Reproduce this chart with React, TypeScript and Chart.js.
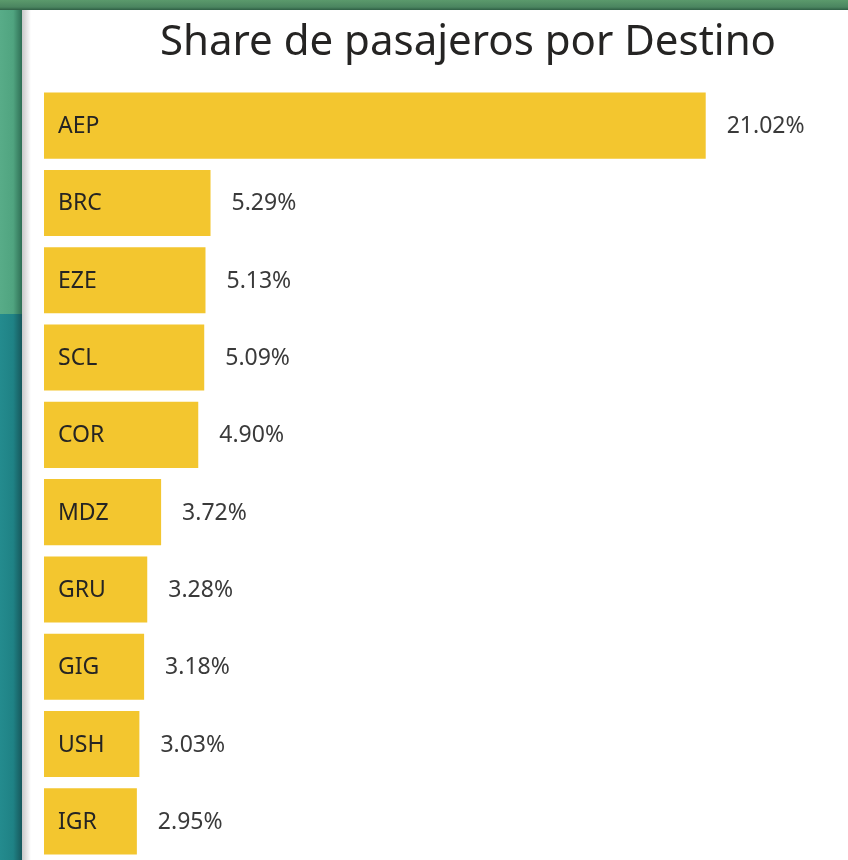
import React, { useEffect, useRef } from "react";
import { Chart, registerables } from "chart.js";

Chart.register(...registerables);

const TITLE = "Share de pasajeros por Destino";
const destinos = ["AEP", "BRC", "EZE", "SCL", "COR", "MDZ", "GRU", "GIG", "USH", "IGR"];
const share = [21.02, 5.29, 5.13, 5.09, 4.9, 3.72, 3.28, 3.18, 3.03, 2.95];

const FONT = "'Noto Sans', 'Open Sans', sans-serif";

const labelsPlugin = {
  id: "valueLabels",
  afterDatasetsDraw(chart: any) {
    const ctx = chart.ctx;
    const meta = chart.getDatasetMeta(0);
    const area = chart.chartArea;
    ctx.save();
    ctx.textAlign = "left";
    ctx.textBaseline = "middle";
    meta.data.forEach((bar: any, i: number) => {
      ctx.font = `23px ${FONT}`;
      ctx.fillStyle = "#3a3a3a";
      ctx.fillText(share[i].toFixed(2) + "%", bar.x + 21, bar.y + 1);
      ctx.fillStyle = "#252423";
      ctx.fillText(destinos[i], area.left + 14, bar.y + 1);
    });
    ctx.restore();
  },
};

const titlePlugin = {
  id: "customTitle",
  afterDraw(chart: any) {
    const ctx = chart.ctx;
    ctx.save();
    ctx.font = `42px ${FONT}`;
    ctx.fillStyle = "#252423";
    ctx.textAlign = "center";
    ctx.textBaseline = "alphabetic";
    ctx.fillText(TITLE, 446, 45);
    ctx.restore();
  },
};

export default function App() {
  const ref = useRef<HTMLCanvasElement>(null);
  useEffect(() => {
    if (!ref.current) return;
    const chart = new Chart(ref.current, {
      type: "bar",
      data: {
        labels: destinos,
        datasets: [
          {
            data: share,
            backgroundColor: "#F3C62F",
            borderWidth: 0,
            categoryPercentage: 1,
            barPercentage: 0.855,
          },
        ],
      },
      options: {
        indexAxis: "y",
        animation: false,
        responsive: false,
        layout: { padding: { left: 22, right: 17, top: 77, bottom: 0 } },
        plugins: { legend: { display: false }, tooltip: { enabled: false }, title: { display: false } },
        scales: {
          x: { display: false, min: 0, max: 25 },
          y: { display: false },
        },
      },
      plugins: [labelsPlugin, titlePlugin],
    });
    return () => chart.destroy();
  }, []);

  return (
    <div style={{ position: "fixed", left: 0, top: 0, width: 848, height: 860, overflow: "hidden", background: "#ffffff" }}>
      <div style={{ position: "absolute", left: 0, top: 0, width: 22, height: 314, background: "linear-gradient(to right, #58ac88 0%, #50a480 60%, #2f6f55 100%)" }} />
      <div style={{ position: "absolute", left: 0, top: 314, width: 22, height: 546, background: "linear-gradient(to right, #248b8e 0%, #1f8285 60%, #17585c 100%)" }} />
      <div style={{ position: "absolute", left: 0, top: 0, width: 848, height: 10, background: "linear-gradient(to bottom, #5b9a6c 0%, #4b8560 70%, #2f5f45 100%)" }} />
      <div style={{ position: "absolute", left: 22, top: 10, width: 826, height: 850, background: "#ffffff" }}>
        <div style={{ position: "absolute", left: 0, top: 0, width: 9, height: 850, background: "linear-gradient(to right, #c8c8c8, #ffffff)" }} />
        <canvas ref={ref} width={826} height={850} style={{ position: "absolute", left: 0, top: 0, width: 826, height: 850 }} />
      </div>
    </div>
  );
}
